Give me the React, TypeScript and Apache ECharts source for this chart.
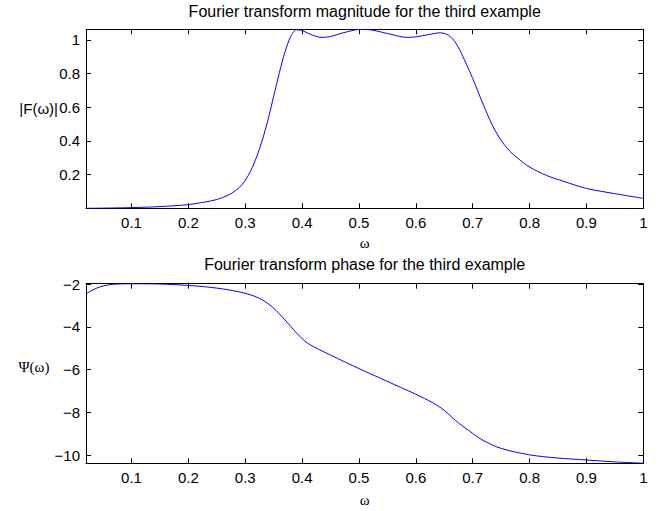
import React, { useEffect, useRef } from "react";
import * as echarts from "echarts";

// Magnitude |F(ω)|
const magOmega = [0.02, 0.05, 0.1, 0.15, 0.2, 0.23, 0.25, 0.27, 0.28, 0.29, 0.3, 0.31, 0.32, 0.33, 0.34, 0.35, 0.36, 0.37, 0.38, 0.39, 0.4, 0.41, 0.42, 0.435, 0.45, 0.47, 0.49, 0.5, 0.52, 0.54, 0.56, 0.584, 0.6, 0.62, 0.643, 0.655, 0.665, 0.675, 0.685, 0.695, 0.705, 0.715, 0.725, 0.735, 0.745, 0.755, 0.765, 0.78, 0.8, 0.83, 0.86, 0.9, 0.95, 1.0];
const magValues = [0.0, 0.001, 0.004, 0.01, 0.022, 0.038, 0.052, 0.078, 0.098, 0.125, 0.165, 0.225, 0.305, 0.405, 0.525, 0.665, 0.805, 0.93, 1.02, 1.06, 1.056, 1.04, 1.026, 1.015, 1.02, 1.04, 1.057, 1.062, 1.06, 1.046, 1.03, 1.015, 1.018, 1.03, 1.042, 1.032, 1.005, 0.955, 0.885, 0.81, 0.73, 0.645, 0.565, 0.49, 0.43, 0.38, 0.34, 0.295, 0.245, 0.195, 0.16, 0.118, 0.087, 0.059];

// Phase Ψ(ω)
const phaseOmega = [0.02, 0.03, 0.045, 0.062, 0.09, 0.12, 0.15, 0.197, 0.23, 0.25, 0.27, 0.29, 0.31, 0.33, 0.35, 0.37, 0.39, 0.4, 0.41, 0.43, 0.45, 0.5, 0.55, 0.6, 0.63, 0.65, 0.67, 0.7, 0.72, 0.75, 0.8, 0.85, 0.9, 0.95, 1.0];
const phaseValues = [-2.47, -2.3, -2.13, -2.03, -1.99, -1.99, -2.0, -2.06, -2.13, -2.19, -2.27, -2.37, -2.51, -2.74, -3.13, -3.68, -4.28, -4.55, -4.77, -5.06, -5.32, -5.95, -6.55, -7.15, -7.55, -7.9, -8.38, -8.98, -9.33, -9.68, -9.98, -10.13, -10.22, -10.31, -10.37];

const xTicks = [0.1, 0.2, 0.3, 0.4, 0.5, 0.6, 0.7, 0.8, 0.9, 1.0];
const magTicks = [0.2, 0.4, 0.6, 0.8, 1.0];
const phaseTicks = [-10, -8, -6, -4, -2];

const SANS = "'Liberation Sans', Arial, Helvetica, sans-serif";
const SERIF = "'Liberation Serif', 'Times New Roman', serif";

function fmt(v: number) {
  return String(Math.round(v * 1000) / 1000).replace("-", "\u2212");
}

export default function App() {
  const ref = useRef<HTMLDivElement>(null);
  useEffect(() => {
    document.body.style.margin = "0";
    if (!ref.current) return;
    const chart = echarts.init(ref.current, undefined, { renderer: "svg" });

    const tickStyle = { lineStyle: { color: "#000", width: 1 } };
    const mkX = (grid: number, pos: "bottom" | "top", labels: boolean) => ({
      type: "value" as const,
      gridIndex: grid,
      position: pos,
      min: 0.02,
      max: 1.0,
      axisLine: { show: true, onZero: false, lineStyle: { color: "#000", width: 1 } },
      axisTick: { show: true, inside: true, length: 5, customValues: xTicks, ...tickStyle },
      axisLabel: {
        show: labels,
        customValues: xTicks,
        formatter: fmt,
        color: "#000",
        fontFamily: SANS,
        fontSize: 15,
        margin: 7,
      },
      splitLine: { show: false },
    });
    const mkY = (grid: number, pos: "left" | "right", labels: boolean, min: number, max: number, ticks: number[]) => ({
      type: "value" as const,
      gridIndex: grid,
      position: pos,
      min,
      max,
      axisLine: { show: true, onZero: false, lineStyle: { color: "#000", width: 1 } },
      axisTick: { show: true, inside: true, length: 5, customValues: ticks, ...tickStyle },
      axisLabel: {
        show: labels,
        customValues: ticks,
        formatter: fmt,
        color: "#000",
        fontFamily: SANS,
        fontSize: 15,
        margin: 6,
      },
      splitLine: { show: false },
    });

    chart.setOption({
      animation: false,
      backgroundColor: "#fff",
      grid: [
        { left: 86, right: 16.7, top: 29.3, height: 179 },
        { left: 86, right: 16.7, top: 283.7, height: 179.6 },
      ],
      xAxis: [mkX(0, "bottom", true), mkX(0, "top", false), mkX(1, "bottom", true), mkX(1, "top", false)],
      yAxis: [
        mkY(0, "left", true, 0, 1.063, magTicks),
        mkY(0, "right", false, 0, 1.063, magTicks),
        mkY(1, "left", true, -10.375, -1.985, phaseTicks),
        mkY(1, "right", false, -10.375, -1.985, phaseTicks),
      ],
      series: [
        {
          type: "line",
          xAxisIndex: 0,
          yAxisIndex: 0,
          data: magOmega.map((x, i) => [x, magValues[i]]),
          showSymbol: false,
          smooth: 0.3,
          lineStyle: { color: "#0000ff", width: 1 },
          clip: true,
        },
        {
          type: "line",
          xAxisIndex: 2,
          yAxisIndex: 2,
          data: phaseOmega.map((x, i) => [x, phaseValues[i]]),
          showSymbol: false,
          smooth: 0.3,
          lineStyle: { color: "#0000ff", width: 1 },
          clip: true,
        },
      ],
      graphic: [
        { type: "text", x: 364.7, y: 11, style: { text: "Fourier transform magnitude for the third example", fontFamily: SANS, fontSize: 16, fill: "#000", align: "center", verticalAlign: "middle" } },
        { type: "text", x: 364.7, y: 264, style: { text: "Fourier transform phase for the third example", fontFamily: SANS, fontSize: 16, fill: "#000", align: "center", verticalAlign: "middle" } },
        { type: "text", x: 364.7, y: 243, style: { text: "ω", fontFamily: SERIF, fontSize: 15, fill: "#000", align: "center", verticalAlign: "middle" } },
        { type: "text", x: 364.7, y: 500, style: { text: "ω", fontFamily: SERIF, fontSize: 15, fill: "#000", align: "center", verticalAlign: "middle" } },
        { type: "text", x: 58, y: 108, style: { text: "|F(ω)|", fontFamily: SANS, fontSize: 15, fill: "#000", align: "right", verticalAlign: "middle" } },
        { type: "text", x: 34, y: 367, style: { text: "Ψ(ω)", fontFamily: SERIF, fontSize: 15, fill: "#000", align: "center", verticalAlign: "middle" } },
      ],
    });
    return () => chart.dispose();
  }, []);
  return <div ref={ref} style={{ width: 660, height: 511 }} />;
}
